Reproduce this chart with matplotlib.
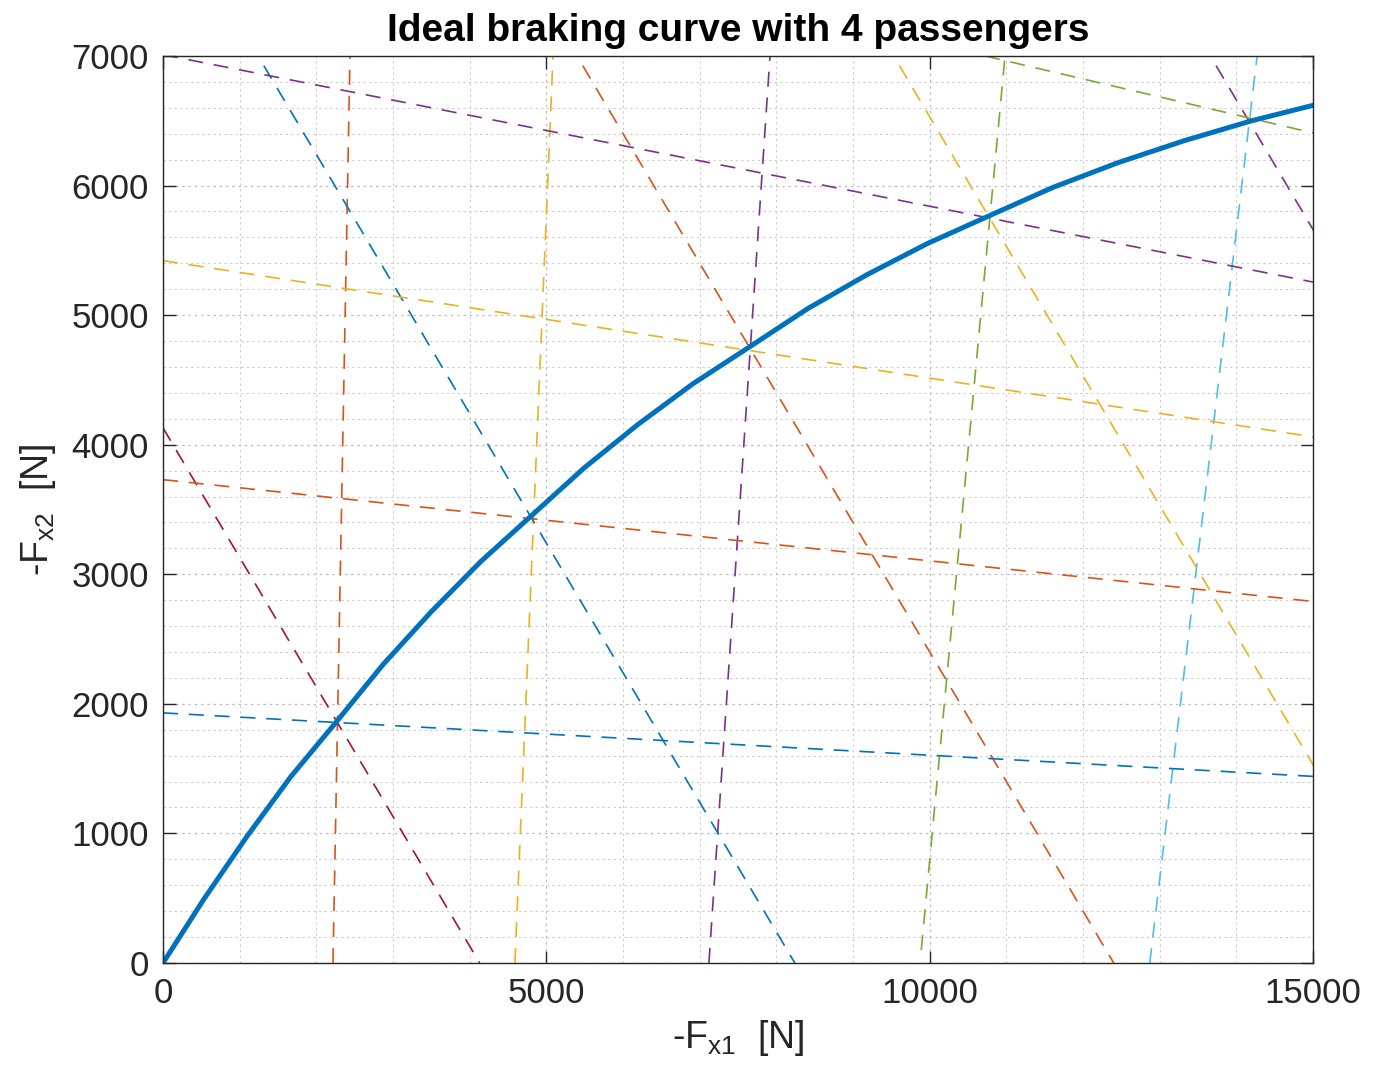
import matplotlib
matplotlib.use('Agg')
import matplotlib.pyplot as plt
import numpy as np

plt.rcParams['font.family'] = ['Liberation Sans', 'DejaVu Sans']
plt.rcParams['mathtext.fontset'] = 'custom'
plt.rcParams['mathtext.rm'] = 'Liberation Sans'
plt.rcParams['mathtext.it'] = 'Liberation Sans'

# ideal braking curve
fx1_ideal = [0, 538, 1094, 1667, 2260, 2871, 3499, 4146, 4811, 5494, 6194,
             6914, 7651, 8406, 9179, 9972, 10781, 11609, 12454, 13319, 14200, 15101]
fx2_ideal = [0, 497, 976, 1438, 1860, 2304, 2711, 3099, 3455, 3821, 4156,
             4471, 4755, 5049, 5311, 5553, 5768, 5986, 6176, 6346, 6500, 6634]

# near-vertical lines: x at bottom / top, y range
front_x0 = [2217, 4590, 7120, 9890, 12870]
front_x1 = [2439, 5087, 7917, 10982, 14270]
front_y0 = [0, 0, 0, 100, 0]
front_y1 = [7000, 7000, 7000, 7000, 7000]
front_colors = ['#D95319', '#EDB120', '#7E2F8E', '#77AC30', '#4DBEEE']

# constant deceleration lines (-Fx1 + -Fx2 = total)
decel_total = [4130, 8240, 12400, 16530, 20660]
decel_colors = ['#A2142F', '#0072BD', '#D95319', '#EDB120', '#7E2F8E']

# near-horizontal lines: start / end points
rear_xa = [0, 0, 0, 0, 10722]
rear_ya = [1930, 3730, 5420, 7010, 7000]
rear_xb = [15000, 15000, 15000, 15000, 15000]
rear_yb = [1440, 2790, 4060, 5255, 6406]
rear_colors = ['#0072BD', '#D95319', '#EDB120', '#7E2F8E', '#77AC30']

fig = plt.figure(figsize=(13.79, 10.72), dpi=100)
ax = fig.add_axes([0.1182, 0.1017, 0.834, 0.8461])

dash = (0, (9, 6.5))
lw = 1.2
for i in range(5):
    ax.plot([front_x0[i], front_x1[i]], [front_y0[i], front_y1[i]],
            linestyle=dash, color=front_colors[i], lw=lw)
for i in range(5):
    t = decel_total[i]
    ax.plot([0, t], [t, 0], linestyle=dash, color=decel_colors[i], lw=lw)
for i in range(5):
    ax.plot([rear_xa[i], rear_xb[i]], [rear_ya[i], rear_yb[i]],
            linestyle=dash, color=rear_colors[i], lw=lw)

ax.plot(fx1_ideal, fx2_ideal, color='#0072BD', lw=3.6, solid_capstyle='butt')

ax.set_xlim(0, 15000)
ax.set_ylim(0, 7000)
ax.set_xticks(np.arange(0, 15001, 5000))
ax.set_yticks(np.arange(0, 7001, 1000))
ax.set_xticks(np.arange(0, 15001, 1000), minor=True)
ax.set_yticks(np.arange(0, 7001, 200), minor=True)

ax.grid(which='major', color='#bdbdbd', linestyle=(0, (2, 3)), lw=0.9)
ax.grid(which='minor', color='#cccccc', linestyle=(0, (2, 3)), lw=0.8)
ax.set_axisbelow(True)

ax.tick_params(which='major', direction='in', length=9, width=1.0,
               top=True, right=True, labelsize=25, colors='#262626', pad=10)
ax.tick_params(which='minor', length=0, top=True, right=True)
for s in ax.spines.values():
    s.set_color('#262626')
    s.set_linewidth(1.0)

ax.set_title('Ideal braking curve with 4 passengers', fontsize=28,
             fontweight='bold', color='black', pad=11)
ax.set_xlabel(r'-F$_{\mathrm{x1}}$  [N]', fontsize=27, color='#262626', labelpad=6)
ax.set_ylabel(r'-F$_{\mathrm{x2}}$  [N]', fontsize=27, color='#262626', labelpad=10)

fig.savefig('out.png', dpi=100)
